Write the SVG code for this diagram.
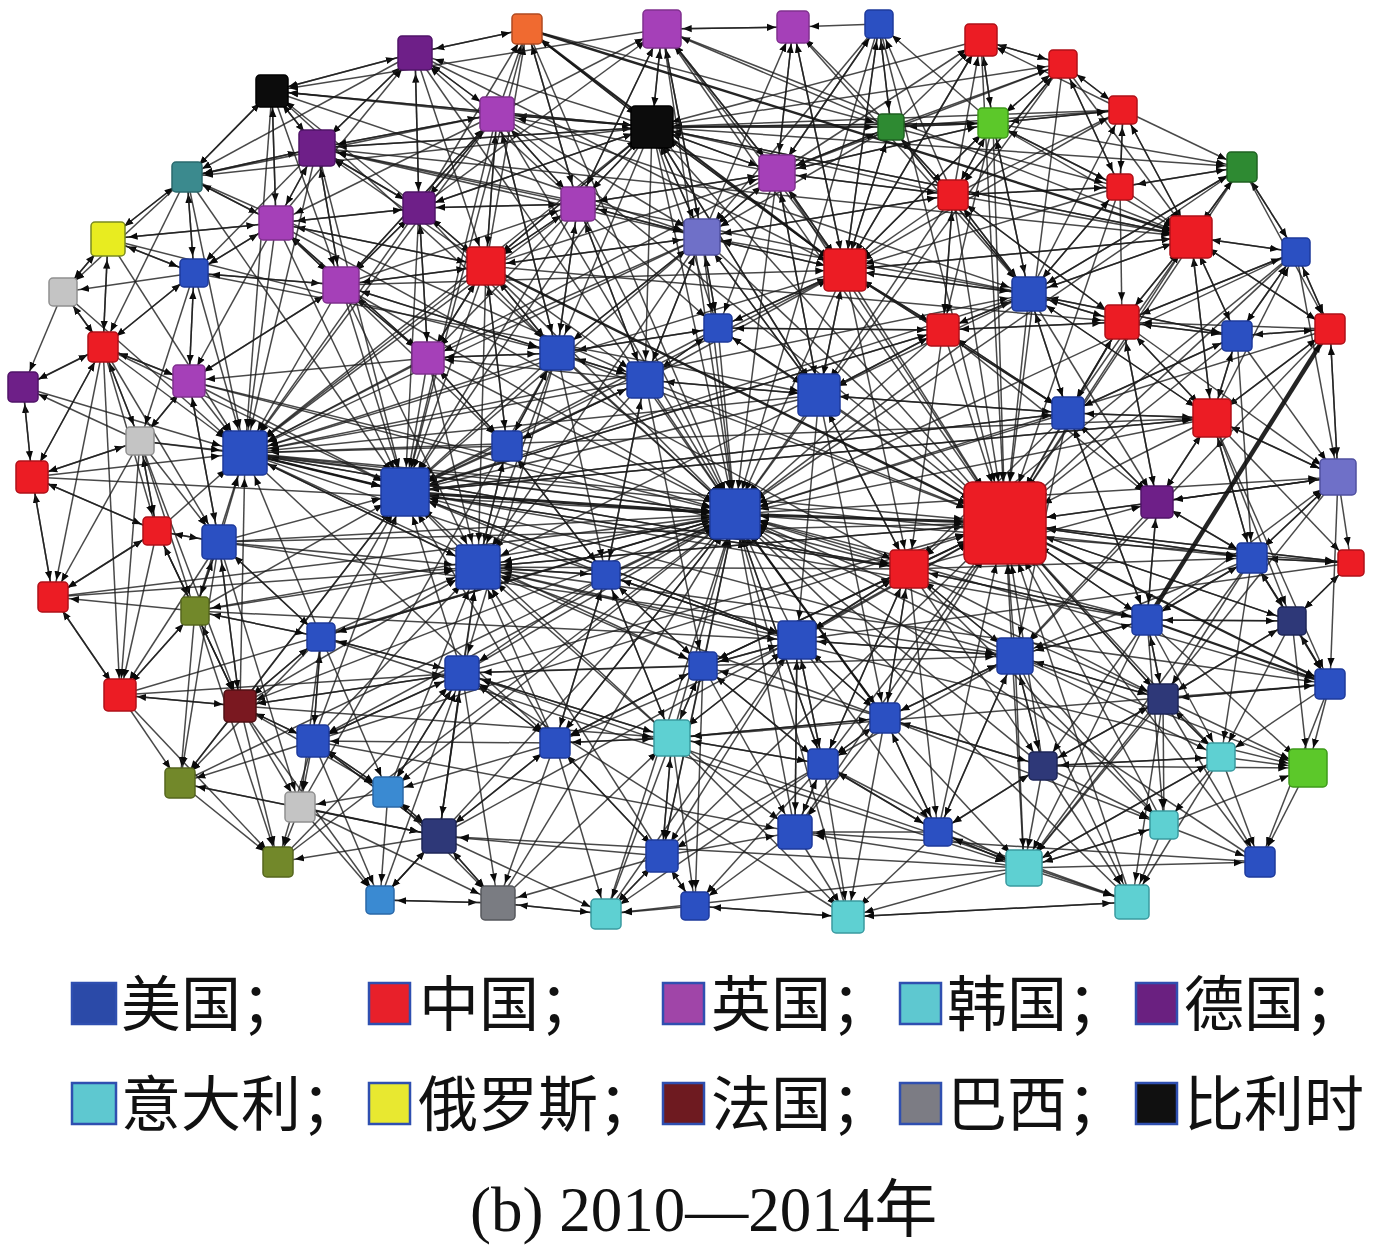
<svg xmlns="http://www.w3.org/2000/svg" width="1376" height="1248" viewBox="0 0 1376 1248">
<style>
#edges{fill:none;stroke:#1c1c1c;stroke-width:1.5;stroke-opacity:.8}
#thick{stroke:#111;stroke-opacity:.92}
#nodes rect{rx:4px;ry:4px;stroke-width:1.5}
.us{fill:#2b50c2;stroke:#1e3a9c}
.cn{fill:#ec1c24;stroke:#b01018}
.uk{fill:#a540b8;stroke:#80308f}
.de{fill:#6e1f88;stroke:#501468}
.kr{fill:#5ed0d2;stroke:#3a9aa0}
.ru{fill:#e8ec20;stroke:#7a8a20}
.fr{fill:#7a1820;stroke:#501014}
.br{fill:#7a7c82;stroke:#55575c}
.be{fill:#0c0c0c;stroke:#000}
.or{fill:#f06a30;stroke:#b04a20}
.gd{fill:#2e8a32;stroke:#1f6222}
.gl{fill:#5cc82a;stroke:#3e9a1a}
.tl{fill:#3b8a8e;stroke:#2a6a6e}
.lv{fill:#6f70c8;stroke:#5050a0}
.lg{fill:#c4c4c4;stroke:#909090}
.ol{fill:#72882a;stroke:#55661e}
.nv{fill:#2e3878;stroke:#1e2658}
.lb{fill:#3a8ad2;stroke:#2a68a8}
.lgd rect{stroke:#2f4fb0;stroke-width:2.5}
.lt{font-family:'Noto Sans CJK SC',sans-serif;font-size:60px;fill:#111}
</style>
<defs>
<marker id="aS" viewBox="0 0 10 10" refX="29" refY="5" markerWidth="9" markerHeight="9" markerUnits="userSpaceOnUse" orient="auto"><path d="M0 1L10 5L0 9z" fill="#0a0a0a"/></marker>
<marker id="aM" viewBox="0 0 10 10" refX="33" refY="5" markerWidth="9" markerHeight="9" markerUnits="userSpaceOnUse" orient="auto"><path d="M0 1L10 5L0 9z" fill="#0a0a0a"/></marker>
<marker id="aL" viewBox="0 0 10 10" refX="38" refY="5" markerWidth="9" markerHeight="9" markerUnits="userSpaceOnUse" orient="auto"><path d="M0 1L10 5L0 9z" fill="#0a0a0a"/></marker>
<marker id="aX" viewBox="0 0 10 10" refX="57" refY="5" markerWidth="9" markerHeight="9" markerUnits="userSpaceOnUse" orient="auto"><path d="M0 1L10 5L0 9z" fill="#0a0a0a"/></marker>
</defs>
<rect width="1376" height="1248" fill="#fff"/>
<g id="edges">
<g marker-end="url(#aX)">
<path d="M845 270L1005 523"/><path d="M819 395L1005 523"/><path d="M1029 294L1005 523"/><path d="M943 330L1005 523"/><path d="M953 195L1005 523"/><path d="M1068 413L1005 523"/><path d="M1122 322L1005 523"/><path d="M1212 418L1005 523"/><path d="M1157 502L1005 523"/><path d="M1252 558L1005 523"/><path d="M1147 620L1005 523"/><path d="M1015 656L1005 523"/><path d="M909 569L1005 523"/><path d="M797 640L1005 523"/><path d="M885 718L1005 523"/><path d="M1043 766L1005 523"/><path d="M1163 699L1005 523"/><path d="M938 832L1005 523"/><path d="M1024 868L1005 523"/><path d="M1237 336L1005 523"/><path d="M1191 237L1005 523"/><path d="M993 123L1005 523"/><path d="M981 40L1005 523"/><path d="M645 380L1005 523"/><path d="M702 237L1005 523"/><path d="M718 328L1005 523"/><path d="M823 764L1005 523"/><path d="M1164 825L1005 523"/><path d="M1120 187L1005 523"/><path d="M1338 477L1005 523"/><path d="M1221 757L1005 523"/><path d="M703 666L1005 523"/><path d="M557 353L1005 523"/><path d="M777 173L1005 523"/><path d="M652 127L1005 523"/>
<path d="M245 453L1005 523"/><path d="M219 542L1005 523"/><path d="M478 567L1005 523"/><path d="M462 673L1005 523"/><path d="M313 741L1005 523"/><path d="M439 836L1005 523"/><path d="M662 856L1005 523"/><path d="M795 832L1005 523"/><path d="M1132 902L1005 523"/><path d="M1260 862L1005 523"/><path d="M1351 563L1005 523"/><path d="M1292 621L1005 523"/><path d="M1296 252L1005 523"/><path d="M1242 167L1005 523"/><path d="M1063 64L1005 523"/><path d="M879 24L1005 523"/><path d="M662 29L1005 523"/><path d="M497 114L1005 523"/>
</g>
<g marker-end="url(#aL)">
<path d="M245 453L735 514"/><path d="M478 567L735 514"/><path d="M645 380L735 514"/><path d="M557 353L735 514"/><path d="M507 446L735 514"/><path d="M819 395L735 514"/><path d="M845 270L735 514"/><path d="M718 328L735 514"/><path d="M702 237L735 514"/><path d="M652 127L735 514"/><path d="M909 569L735 514"/><path d="M797 640L735 514"/><path d="M703 666L735 514"/><path d="M672 738L735 514"/><path d="M606 575L735 514"/><path d="M486 266L735 514"/><path d="M777 173L735 514"/><path d="M578 204L735 514"/><path d="M1029 294L735 514"/><path d="M943 330L735 514"/><path d="M1068 413L735 514"/><path d="M1015 656L735 514"/><path d="M885 718L735 514"/><path d="M555 743L735 514"/><path d="M462 673L735 514"/><path d="M662 856L735 514"/><path d="M795 832L735 514"/><path d="M428 358L735 514"/><path d="M341 285L735 514"/><path d="M219 542L735 514"/><path d="M497 114L735 514"/><path d="M662 29L735 514"/><path d="M823 764L735 514"/><path d="M1212 418L735 514"/><path d="M1147 620L735 514"/><path d="M1163 699L735 514"/><path d="M1043 766L735 514"/><path d="M189 381L735 514"/><path d="M321 637L735 514"/>
<path d="M140 441L735 514"/><path d="M272 91L735 514"/><path d="M415 53L735 514"/><path d="M527 29L735 514"/><path d="M879 24L735 514"/><path d="M1063 64L735 514"/><path d="M1242 167L735 514"/><path d="M1296 252L735 514"/><path d="M1330 329L735 514"/><path d="M1351 563L735 514"/><path d="M1330 684L735 514"/><path d="M1260 862L735 514"/><path d="M1132 902L735 514"/><path d="M848 917L735 514"/><path d="M606 914L735 514"/><path d="M498 903L735 514"/><path d="M380 900L735 514"/><path d="M278 862L735 514"/><path d="M180 783L735 514"/><path d="M120 695L735 514"/><path d="M53 597L735 514"/><path d="M32 477L735 514"/>
<path d="M245 453L405 492"/><path d="M341 285L405 492"/><path d="M428 358L405 492"/><path d="M486 266L405 492"/><path d="M557 353L405 492"/><path d="M507 446L405 492"/><path d="M645 380L405 492"/><path d="M276 223L405 492"/><path d="M419 208L405 492"/><path d="M317 148L405 492"/><path d="M189 381L405 492"/><path d="M219 542L405 492"/><path d="M478 567L405 492"/><path d="M321 637L405 492"/><path d="M462 673L405 492"/><path d="M606 575L405 492"/><path d="M819 395L405 492"/><path d="M702 237L405 492"/><path d="M497 114L405 492"/><path d="M195 611L405 492"/><path d="M240 706L405 492"/><path d="M313 741L405 492"/><path d="M555 743L405 492"/><path d="M718 328L405 492"/><path d="M578 204L405 492"/><path d="M527 29L405 492"/><path d="M652 127L405 492"/><path d="M845 270L405 492"/><path d="M909 569L405 492"/><path d="M672 738L405 492"/><path d="M797 640L405 492"/>
<path d="M103 347L405 492"/><path d="M187 177L405 492"/><path d="M180 783L405 492"/><path d="M1015 656L405 492"/><path d="M1068 413L405 492"/><path d="M1029 294L405 492"/><path d="M943 330L405 492"/><path d="M1147 620L405 492"/><path d="M1212 418L405 492"/>
<path d="M276 223L245 453"/><path d="M194 273L245 453"/><path d="M189 381L245 453"/><path d="M341 285L245 453"/><path d="M317 148L245 453"/><path d="M103 347L245 453"/><path d="M140 441L245 453"/><path d="M219 542L245 453"/><path d="M157 531L245 453"/><path d="M428 358L245 453"/><path d="M486 266L245 453"/><path d="M557 353L245 453"/><path d="M645 380L245 453"/><path d="M507 446L245 453"/><path d="M478 567L245 453"/><path d="M321 637L245 453"/><path d="M195 611L245 453"/><path d="M240 706L245 453"/><path d="M272 91L245 453"/><path d="M419 208L245 453"/><path d="M497 114L245 453"/><path d="M652 127L245 453"/><path d="M702 237L245 453"/><path d="M819 395L245 453"/><path d="M845 270L245 453"/><path d="M777 173L245 453"/><path d="M578 204L245 453"/><path d="M909 569L245 453"/><path d="M187 177L245 453"/><path d="M108 239L245 453"/>
<path d="M32 477L245 453"/><path d="M23 387L245 453"/><path d="M63 292L245 453"/>
<path d="M245 453L478 567"/><path d="M219 542L478 567"/><path d="M321 637L478 567"/><path d="M462 673L478 567"/><path d="M606 575L478 567"/><path d="M507 446L478 567"/><path d="M557 353L478 567"/><path d="M645 380L478 567"/><path d="M735 514L478 567"/><path d="M555 743L478 567"/><path d="M672 738L478 567"/><path d="M240 706L478 567"/><path d="M195 611L478 567"/><path d="M428 358L478 567"/><path d="M341 285L478 567"/><path d="M486 266L478 567"/><path d="M702 237L478 567"/><path d="M797 640L478 567"/><path d="M703 666L478 567"/><path d="M313 741L478 567"/><path d="M388 792L478 567"/><path d="M439 836L478 567"/><path d="M662 856L478 567"/><path d="M909 569L478 567"/><path d="M819 395L478 567"/><path d="M1005 523L478 567"/><path d="M885 718L478 567"/>
<path d="M53 597L478 567"/>
</g>
<g marker-end="url(#aM)">
<path d="M793 27L662 29"/><path d="M652 127L662 29"/><path d="M578 204L662 29"/><path d="M777 173L662 29"/><path d="M702 237L662 29"/><path d="M497 114L662 29"/><path d="M891 127L662 29"/><path d="M845 270L662 29"/><path d="M419 208L662 29"/>
<path d="M272 91L415 53"/><path d="M497 114L415 53"/><path d="M317 148L415 53"/><path d="M652 127L415 53"/><path d="M419 208L415 53"/><path d="M578 204L415 53"/><path d="M276 223L415 53"/><path d="M527 29L415 53"/>
<path d="M652 127L497 114"/><path d="M415 53L497 114"/><path d="M419 208L497 114"/><path d="M578 204L497 114"/><path d="M341 285L497 114"/><path d="M486 266L497 114"/><path d="M777 173L497 114"/><path d="M317 148L497 114"/><path d="M557 353L497 114"/>
<path d="M527 29L652 127"/><path d="M662 29L652 127"/><path d="M777 173L652 127"/><path d="M578 204L652 127"/><path d="M497 114L652 127"/><path d="M419 208L652 127"/><path d="M317 148L652 127"/><path d="M702 237L652 127"/><path d="M845 270L652 127"/><path d="M891 127L652 127"/><path d="M993 123L652 127"/><path d="M953 195L652 127"/><path d="M272 91L652 127"/><path d="M486 266L652 127"/><path d="M1191 237L652 127"/><path d="M1123 110L652 127"/><path d="M819 395L652 127"/><path d="M981 40L652 127"/>
<path d="M272 91L317 148"/><path d="M415 53L317 148"/><path d="M497 114L317 148"/><path d="M419 208L317 148"/><path d="M276 223L317 148"/><path d="M187 177L317 148"/><path d="M341 285L317 148"/><path d="M652 127L317 148"/><path d="M578 204L317 148"/><path d="M486 266L317 148"/><path d="M702 237L317 148"/><path d="M1029 294L317 148"/>
<path d="M662 29L777 173"/><path d="M793 27L777 173"/><path d="M879 24L777 173"/><path d="M652 127L777 173"/><path d="M702 237L777 173"/><path d="M845 270L777 173"/><path d="M891 127L777 173"/><path d="M953 195L777 173"/><path d="M578 204L777 173"/><path d="M819 395L777 173"/><path d="M993 123L777 173"/><path d="M486 266L777 173"/><path d="M1063 64L777 173"/>
<path d="M527 29L578 204"/><path d="M662 29L578 204"/><path d="M497 114L578 204"/><path d="M652 127L578 204"/><path d="M419 208L578 204"/><path d="M486 266L578 204"/><path d="M702 237L578 204"/><path d="M557 353L578 204"/><path d="M645 380L578 204"/><path d="M341 285L578 204"/><path d="M777 173L578 204"/>
<path d="M272 91L276 223"/><path d="M317 148L276 223"/><path d="M187 177L276 223"/><path d="M419 208L276 223"/><path d="M341 285L276 223"/><path d="M194 273L276 223"/><path d="M108 239L276 223"/><path d="M428 358L276 223"/><path d="M497 114L276 223"/><path d="M486 266L276 223"/>
<path d="M187 177L108 239"/><path d="M276 223L108 239"/><path d="M63 292L108 239"/><path d="M194 273L108 239"/><path d="M103 347L108 239"/>
<path d="M652 127L702 237"/><path d="M662 29L702 237"/><path d="M578 204L702 237"/><path d="M777 173L702 237"/><path d="M845 270L702 237"/><path d="M718 328L702 237"/><path d="M645 380L702 237"/><path d="M557 353L702 237"/><path d="M486 266L702 237"/><path d="M819 395L702 237"/><path d="M953 195L702 237"/><path d="M1029 294L702 237"/><path d="M891 127L702 237"/><path d="M497 114L702 237"/><path d="M272 91L702 237"/><path d="M879 24L702 237"/>
<path d="M1063 64L1191 237"/><path d="M1123 110L1191 237"/><path d="M1120 187L1191 237"/><path d="M1242 167L1191 237"/><path d="M953 195L1191 237"/><path d="M1029 294L1191 237"/><path d="M1122 322L1191 237"/><path d="M1237 336L1191 237"/><path d="M1296 252L1191 237"/><path d="M845 270L1191 237"/><path d="M993 123L1191 237"/><path d="M1212 418L1191 237"/><path d="M1068 413L1191 237"/><path d="M652 127L1191 237"/><path d="M1330 329L1191 237"/><path d="M317 148L1191 237"/><path d="M662 29L1191 237"/>
<path d="M415 53L486 266"/><path d="M497 114L486 266"/><path d="M419 208L486 266"/><path d="M578 204L486 266"/><path d="M341 285L486 266"/><path d="M428 358L486 266"/><path d="M557 353L486 266"/><path d="M652 127L486 266"/><path d="M702 237L486 266"/><path d="M276 223L486 266"/><path d="M507 446L486 266"/>
<path d="M793 27L845 270"/><path d="M879 24L845 270"/><path d="M891 127L845 270"/><path d="M777 173L845 270"/><path d="M953 195L845 270"/><path d="M702 237L845 270"/><path d="M718 328L845 270"/><path d="M819 395L845 270"/><path d="M943 330L845 270"/><path d="M1029 294L845 270"/><path d="M993 123L845 270"/><path d="M652 127L845 270"/><path d="M981 40L845 270"/><path d="M1120 187L845 270"/><path d="M1191 237L845 270"/><path d="M1068 413L845 270"/><path d="M645 380L845 270"/><path d="M341 285L845 270"/><path d="M415 53L845 270"/><path d="M1123 110L845 270"/>
<path d="M276 223L341 285"/><path d="M317 148L341 285"/><path d="M419 208L341 285"/><path d="M428 358L341 285"/><path d="M194 273L341 285"/><path d="M486 266L341 285"/><path d="M272 91L341 285"/><path d="M497 114L341 285"/><path d="M189 381L341 285"/><path d="M557 353L341 285"/>
<path d="M953 195L1029 294"/><path d="M993 123L1029 294"/><path d="M1122 322L1029 294"/><path d="M1191 237L1029 294"/><path d="M1120 187L1029 294"/><path d="M943 330L1029 294"/><path d="M1068 413L1029 294"/><path d="M845 270L1029 294"/><path d="M1212 418L1029 294"/><path d="M1237 336L1029 294"/><path d="M891 127L1029 294"/><path d="M245 453L1029 294"/><path d="M497 114L1029 294"/><path d="M793 27L1029 294"/><path d="M1242 167L1029 294"/>
<path d="M1120 187L1122 322"/><path d="M1191 237L1122 322"/><path d="M1029 294L1122 322"/><path d="M1237 336L1122 322"/><path d="M1212 418L1122 322"/><path d="M1068 413L1122 322"/><path d="M953 195L1122 322"/><path d="M943 330L1122 322"/><path d="M1296 252L1122 322"/><path d="M1330 329L1122 322"/><path d="M1157 502L1122 322"/><path d="M486 266L1122 322"/>
<path d="M486 266L557 353"/><path d="M578 204L557 353"/><path d="M428 358L557 353"/><path d="M507 446L557 353"/><path d="M645 380L557 353"/><path d="M702 237L557 353"/><path d="M341 285L557 353"/><path d="M652 127L557 353"/><path d="M718 328L557 353"/><path d="M419 208L557 353"/><path d="M497 114L557 353"/><path d="M108 239L557 353"/><path d="M300 807L557 353"/>
<path d="M557 353L645 380"/><path d="M702 237L645 380"/><path d="M718 328L645 380"/><path d="M578 204L645 380"/><path d="M507 446L645 380"/><path d="M819 395L645 380"/><path d="M486 266L645 380"/><path d="M652 127L645 380"/><path d="M606 575L645 380"/><path d="M187 177L645 380"/>
<path d="M845 270L819 395"/><path d="M718 328L819 395"/><path d="M702 237L819 395"/><path d="M777 173L819 395"/><path d="M943 330L819 395"/><path d="M909 569L819 395"/><path d="M1029 294L819 395"/><path d="M645 380L819 395"/><path d="M1068 413L819 395"/><path d="M652 127L819 395"/><path d="M953 195L819 395"/><path d="M194 273L819 395"/>
<path d="M1237 336L1212 418"/><path d="M1122 322L1212 418"/><path d="M1191 237L1212 418"/><path d="M1068 413L1212 418"/><path d="M1157 502L1212 418"/><path d="M1252 558L1212 418"/><path d="M1330 329L1212 418"/><path d="M1338 477L1212 418"/><path d="M1029 294L1212 418"/><path d="M245 453L1212 418"/><path d="M405 492L1212 418"/>
<path d="M1330 329L1338 477"/><path d="M1237 336L1338 477"/><path d="M1212 418L1338 477"/><path d="M1252 558L1338 477"/><path d="M1296 252L1338 477"/><path d="M1157 502L1338 477"/><path d="M1122 322L1338 477"/><path d="M1147 620L1338 477"/><path d="M735 514L1338 477"/>
<path d="M157 531L219 542"/><path d="M195 611L219 542"/><path d="M189 381L219 542"/><path d="M140 441L219 542"/><path d="M321 637L219 542"/><path d="M103 347L219 542"/><path d="M240 706L219 542"/>
<path d="M819 395L909 569"/><path d="M797 640L909 569"/><path d="M1015 656L909 569"/><path d="M885 718L909 569"/><path d="M943 330L909 569"/><path d="M845 270L909 569"/><path d="M1068 413L909 569"/><path d="M1147 620L909 569"/><path d="M823 764L909 569"/><path d="M703 666L909 569"/><path d="M245 453L909 569"/><path d="M405 492L909 569"/><path d="M276 223L909 569"/><path d="M189 381L909 569"/><path d="M1296 252L909 569"/>
<path d="M703 666L797 640"/><path d="M885 718L797 640"/><path d="M823 764L797 640"/><path d="M909 569L797 640"/><path d="M672 738L797 640"/><path d="M819 395L797 640"/><path d="M1015 656L797 640"/><path d="M606 575L797 640"/><path d="M795 832L797 640"/><path d="M245 453L797 640"/><path d="M405 492L797 640"/><path d="M195 611L797 640"/><path d="M1351 563L797 640"/><path d="M606 914L797 640"/>
<path d="M909 569L1015 656"/><path d="M885 718L1015 656"/><path d="M1043 766L1015 656"/><path d="M1147 620L1015 656"/><path d="M1163 699L1015 656"/><path d="M797 640L1015 656"/><path d="M1068 413L1015 656"/><path d="M1157 502L1015 656"/><path d="M1252 558L1015 656"/><path d="M938 832L1015 656"/><path d="M219 542L1015 656"/><path d="M462 673L1015 656"/><path d="M1330 329L1015 656"/>
<path d="M321 637L462 673"/><path d="M555 743L462 673"/><path d="M313 741L462 673"/><path d="M240 706L462 673"/><path d="M388 792L462 673"/><path d="M439 836L462 673"/><path d="M606 575L462 673"/><path d="M703 666L462 673"/><path d="M672 738L462 673"/><path d="M557 353L462 673"/><path d="M120 695L462 673"/><path d="M1132 902L462 673"/><path d="M848 917L462 673"/><path d="M380 900L462 673"/><path d="M278 862L462 673"/>
<path d="M703 666L672 738"/><path d="M555 743L672 738"/><path d="M662 856L672 738"/><path d="M797 640L672 738"/><path d="M606 575L672 738"/><path d="M823 764L672 738"/><path d="M462 673L672 738"/><path d="M885 718L672 738"/><path d="M240 706L672 738"/><path d="M1330 684L672 738"/><path d="M498 903L672 738"/>
<path d="M1221 757L1308 768"/><path d="M1330 684L1308 768"/><path d="M1163 699L1308 768"/><path d="M1164 825L1308 768"/><path d="M1015 656L1308 768"/><path d="M1147 620L1308 768"/><path d="M1292 621L1308 768"/><path d="M1043 766L1308 768"/><path d="M478 567L1308 768"/>
<path d="M388 792L439 836"/><path d="M462 673L439 836"/><path d="M313 741L439 836"/><path d="M380 900L439 836"/><path d="M555 743L439 836"/><path d="M498 903L439 836"/><path d="M300 807L439 836"/><path d="M1024 868L439 836"/><path d="M662 856L439 836"/><path d="M180 783L439 836"/>
<path d="M823 764L795 832"/><path d="M797 640L795 832"/><path d="M885 718L795 832"/><path d="M662 856L795 832"/><path d="M938 832L795 832"/><path d="M703 666L795 832"/><path d="M672 738L795 832"/><path d="M1024 868L795 832"/><path d="M313 741L795 832"/><path d="M1260 862L795 832"/>
<path d="M1043 766L1024 868"/><path d="M938 832L1024 868"/><path d="M1221 757L1024 868"/><path d="M1164 825L1024 868"/><path d="M1147 620L1024 868"/><path d="M1015 656L1024 868"/><path d="M885 718L1024 868"/><path d="M823 764L1024 868"/><path d="M1163 699L1024 868"/><path d="M1252 558L1024 868"/><path d="M321 637L1024 868"/><path d="M1338 477L1024 868"/>
<path d="M439 836L498 903"/><path d="M380 900L498 903"/><path d="M555 743L498 903"/><path d="M462 673L498 903"/><path d="M606 914L498 903"/><path d="M300 807L498 903"/><path d="M388 792L498 903"/><path d="M662 856L498 903"/>
<path d="M1024 868L1132 902"/><path d="M1164 825L1132 902"/><path d="M1221 757L1132 902"/><path d="M938 832L1132 902"/><path d="M1043 766L1132 902"/><path d="M1015 656L1132 902"/><path d="M1163 699L1132 902"/><path d="M848 917L1132 902"/>
</g>
<g marker-end="url(#aS)">
<path d="M652 127L527 29"/><path d="M497 114L527 29"/><path d="M415 53L527 29"/><path d="M578 204L527 29"/><path d="M486 266L527 29"/><path d="M419 208L527 29"/>
<path d="M662 29L793 27"/><path d="M777 173L793 27"/><path d="M879 24L793 27"/><path d="M891 127L793 27"/><path d="M845 270L793 27"/><path d="M702 237L793 27"/>
<path d="M891 127L879 24"/><path d="M777 173L879 24"/><path d="M993 123L879 24"/><path d="M845 270L879 24"/><path d="M953 195L879 24"/>
<path d="M891 127L981 40"/><path d="M993 123L981 40"/><path d="M1063 64L981 40"/><path d="M953 195L981 40"/><path d="M777 173L981 40"/><path d="M845 270L981 40"/><path d="M1123 110L981 40"/>
<path d="M981 40L1063 64"/><path d="M993 123L1063 64"/><path d="M1123 110L1063 64"/><path d="M891 127L1063 64"/><path d="M953 195L1063 64"/><path d="M1120 187L1063 64"/><path d="M652 127L1063 64"/>
<path d="M415 53L272 91"/><path d="M317 148L272 91"/><path d="M187 177L272 91"/><path d="M276 223L272 91"/><path d="M497 114L272 91"/><path d="M652 127L272 91"/><path d="M419 208L272 91"/><path d="M662 29L272 91"/>
<path d="M652 127L891 127"/><path d="M845 270L891 127"/><path d="M777 173L891 127"/><path d="M953 195L891 127"/><path d="M993 123L891 127"/><path d="M879 24L891 127"/><path d="M1029 294L891 127"/><path d="M527 29L891 127"/>
<path d="M891 127L993 123"/><path d="M981 40L993 123"/><path d="M953 195L993 123"/><path d="M1063 64L993 123"/><path d="M1120 187L993 123"/><path d="M1123 110L993 123"/><path d="M845 270L993 123"/><path d="M777 173L993 123"/><path d="M652 127L993 123"/><path d="M1029 294L993 123"/>
<path d="M1063 64L1123 110"/><path d="M993 123L1123 110"/><path d="M1120 187L1123 110"/><path d="M1191 237L1123 110"/><path d="M953 195L1123 110"/><path d="M891 127L1123 110"/><path d="M1029 294L1123 110"/>
<path d="M272 91L187 177"/><path d="M317 148L187 177"/><path d="M276 223L187 177"/><path d="M108 239L187 177"/><path d="M194 273L187 177"/><path d="M415 53L187 177"/><path d="M497 114L187 177"/><path d="M652 127L187 177"/>
<path d="M891 127L953 195"/><path d="M993 123L953 195"/><path d="M1063 64L953 195"/><path d="M1120 187L953 195"/><path d="M1029 294L953 195"/><path d="M943 330L953 195"/><path d="M777 173L953 195"/><path d="M1122 322L953 195"/><path d="M702 237L953 195"/>
<path d="M1063 64L1120 187"/><path d="M1123 110L1120 187"/><path d="M953 195L1120 187"/><path d="M993 123L1120 187"/><path d="M1029 294L1120 187"/><path d="M1242 167L1120 187"/><path d="M891 127L1120 187"/>
<path d="M1191 237L1242 167"/><path d="M993 123L1242 167"/><path d="M1120 187L1242 167"/><path d="M1123 110L1242 167"/><path d="M1296 252L1242 167"/><path d="M1029 294L1242 167"/><path d="M652 127L1242 167"/>
<path d="M415 53L419 208"/><path d="M317 148L419 208"/><path d="M497 114L419 208"/><path d="M276 223L419 208"/><path d="M341 285L419 208"/><path d="M486 266L419 208"/><path d="M578 204L419 208"/><path d="M652 127L419 208"/><path d="M428 358L419 208"/>
<path d="M1191 237L1296 252"/><path d="M1242 167L1296 252"/><path d="M1237 336L1296 252"/><path d="M1330 329L1296 252"/><path d="M1122 322L1296 252"/><path d="M1212 418L1296 252"/>
<path d="M276 223L194 273"/><path d="M187 177L194 273"/><path d="M108 239L194 273"/><path d="M341 285L194 273"/><path d="M189 381L194 273"/><path d="M317 148L194 273"/><path d="M103 347L194 273"/>
<path d="M108 239L63 292"/><path d="M103 347L63 292"/><path d="M194 273L63 292"/><path d="M187 177L63 292"/>
<path d="M845 270L943 330"/><path d="M953 195L943 330"/><path d="M1029 294L943 330"/><path d="M1068 413L943 330"/><path d="M819 395L943 330"/><path d="M1122 322L943 330"/><path d="M993 123L943 330"/><path d="M718 328L943 330"/><path d="M405 492L943 330"/>
<path d="M702 237L718 328"/><path d="M645 380L718 328"/><path d="M819 395L718 328"/><path d="M652 127L718 328"/><path d="M845 270L718 328"/><path d="M777 173L718 328"/><path d="M557 353L718 328"/><path d="M578 204L718 328"/><path d="M943 330L718 328"/>
<path d="M1191 237L1237 336"/><path d="M1296 252L1237 336"/><path d="M1212 418L1237 336"/><path d="M1122 322L1237 336"/><path d="M1330 329L1237 336"/><path d="M1068 413L1237 336"/><path d="M1029 294L1237 336"/>
<path d="M1296 252L1330 329"/><path d="M1338 477L1330 329"/><path d="M1237 336L1330 329"/><path d="M1191 237L1330 329"/><path d="M1212 418L1330 329"/><path d="M1242 167L1330 329"/>
<path d="M63 292L103 347"/><path d="M108 239L103 347"/><path d="M23 387L103 347"/><path d="M194 273L103 347"/><path d="M189 381L103 347"/><path d="M140 441L103 347"/><path d="M32 477L103 347"/><path d="M187 177L103 347"/>
<path d="M341 285L428 358"/><path d="M486 266L428 358"/><path d="M419 208L428 358"/><path d="M557 353L428 358"/><path d="M507 446L428 358"/><path d="M276 223L428 358"/><path d="M578 204L428 358"/><path d="M645 380L428 358"/><path d="M702 237L428 358"/>
<path d="M103 347L23 387"/><path d="M63 292L23 387"/><path d="M32 477L23 387"/><path d="M140 441L23 387"/>
<path d="M103 347L189 381"/><path d="M276 223L189 381"/><path d="M194 273L189 381"/><path d="M341 285L189 381"/><path d="M140 441L189 381"/><path d="M428 358L189 381"/><path d="M219 542L189 381"/>
<path d="M1029 294L1068 413"/><path d="M1122 322L1068 413"/><path d="M943 330L1068 413"/><path d="M1212 418L1068 413"/><path d="M1157 502L1068 413"/><path d="M819 395L1068 413"/><path d="M1147 620L1068 413"/><path d="M845 270L1068 413"/><path d="M1237 336L1068 413"/><path d="M405 492L1068 413"/>
<path d="M103 347L140 441"/><path d="M189 381L140 441"/><path d="M32 477L140 441"/><path d="M157 531L140 441"/><path d="M194 273L140 441"/>
<path d="M428 358L507 446"/><path d="M557 353L507 446"/><path d="M478 567L507 446"/><path d="M645 380L507 446"/><path d="M486 266L507 446"/><path d="M606 575L507 446"/><path d="M341 285L507 446"/>
<path d="M103 347L32 477"/><path d="M23 387L32 477"/><path d="M53 597L32 477"/><path d="M140 441L32 477"/><path d="M157 531L32 477"/>
<path d="M1212 418L1157 502"/><path d="M1068 413L1157 502"/><path d="M1252 558L1157 502"/><path d="M1147 620L1157 502"/><path d="M1122 322L1157 502"/><path d="M1338 477L1157 502"/><path d="M1029 294L1157 502"/><path d="M943 330L1157 502"/><path d="M909 569L1157 502"/>
<path d="M140 441L157 531"/><path d="M103 347L157 531"/><path d="M219 542L157 531"/><path d="M53 597L157 531"/><path d="M195 611L157 531"/><path d="M32 477L157 531"/>
<path d="M478 567L606 575"/><path d="M703 666L606 575"/><path d="M645 380L606 575"/><path d="M507 446L606 575"/><path d="M557 353L606 575"/><path d="M672 738L606 575"/><path d="M555 743L606 575"/><path d="M797 640L606 575"/>
<path d="M1147 620L1252 558"/><path d="M1212 418L1252 558"/><path d="M1338 477L1252 558"/><path d="M1157 502L1252 558"/><path d="M1351 563L1252 558"/><path d="M1292 621L1252 558"/><path d="M1237 336L1252 558"/><path d="M909 569L1252 558"/><path d="M1005 523L1252 558"/><path d="M245 453L1252 558"/>
<path d="M1005 523L1351 563"/><path d="M1252 558L1351 563"/><path d="M1338 477L1351 563"/><path d="M1292 621L1351 563"/><path d="M1212 418L1351 563"/>
<path d="M103 347L53 597"/><path d="M32 477L53 597"/><path d="M157 531L53 597"/><path d="M120 695L53 597"/><path d="M140 441L53 597"/><path d="M195 611L53 597"/>
<path d="M219 542L195 611"/><path d="M157 531L195 611"/><path d="M240 706L195 611"/><path d="M321 637L195 611"/><path d="M120 695L195 611"/><path d="M140 441L195 611"/><path d="M735 514L195 611"/>
<path d="M1252 558L1147 620"/><path d="M1015 656L1147 620"/><path d="M1163 699L1147 620"/><path d="M1157 502L1147 620"/><path d="M909 569L1147 620"/><path d="M1292 621L1147 620"/><path d="M1068 413L1147 620"/><path d="M1005 523L1147 620"/>
<path d="M1147 620L1292 621"/><path d="M1252 558L1292 621"/><path d="M1005 523L1292 621"/><path d="M1330 684L1292 621"/><path d="M1163 699L1292 621"/><path d="M1212 418L1292 621"/><path d="M1351 563L1292 621"/>
<path d="M219 542L321 637"/><path d="M195 611L321 637"/><path d="M240 706L321 637"/><path d="M462 673L321 637"/><path d="M313 741L321 637"/><path d="M735 514L321 637"/>
<path d="M797 640L703 666"/><path d="M672 738L703 666"/><path d="M606 575L703 666"/><path d="M823 764L703 666"/><path d="M885 718L703 666"/><path d="M555 743L703 666"/><path d="M1005 523L703 666"/><path d="M645 380L703 666"/><path d="M245 453L703 666"/>
<path d="M103 347L120 695"/><path d="M53 597L120 695"/><path d="M157 531L120 695"/><path d="M240 706L120 695"/><path d="M195 611L120 695"/><path d="M219 542L120 695"/><path d="M140 441L120 695"/>
<path d="M219 542L240 706"/><path d="M195 611L240 706"/><path d="M321 637L240 706"/><path d="M313 741L240 706"/><path d="M462 673L240 706"/><path d="M157 531L240 706"/><path d="M140 441L240 706"/><path d="M735 514L240 706"/><path d="M120 695L240 706"/>
<path d="M1005 523L1163 699"/><path d="M1147 620L1163 699"/><path d="M1015 656L1163 699"/><path d="M1252 558L1163 699"/><path d="M1292 621L1163 699"/><path d="M1043 766L1163 699"/><path d="M1221 757L1163 699"/><path d="M909 569L1163 699"/><path d="M1330 684L1163 699"/>
<path d="M1252 558L1330 684"/><path d="M1292 621L1330 684"/><path d="M1163 699L1330 684"/><path d="M1212 418L1330 684"/><path d="M1338 477L1330 684"/><path d="M478 567L1330 684"/>
<path d="M321 637L313 741"/><path d="M240 706L313 741"/><path d="M462 673L313 741"/><path d="M388 792L313 741"/><path d="M555 743L313 741"/><path d="M439 836L313 741"/><path d="M735 514L313 741"/>
<path d="M462 673L555 743"/><path d="M606 575L555 743"/><path d="M672 738L555 743"/><path d="M703 666L555 743"/><path d="M735 514L555 743"/><path d="M662 856L555 743"/><path d="M439 836L555 743"/><path d="M797 640L555 743"/><path d="M245 453L555 743"/>
<path d="M909 569L885 718"/><path d="M797 640L885 718"/><path d="M1015 656L885 718"/><path d="M823 764L885 718"/><path d="M938 832L885 718"/><path d="M1043 766L885 718"/><path d="M672 738L885 718"/><path d="M819 395L885 718"/>
<path d="M797 640L823 764"/><path d="M885 718L823 764"/><path d="M735 514L823 764"/><path d="M909 569L823 764"/><path d="M703 666L823 764"/><path d="M672 738L823 764"/><path d="M795 832L823 764"/><path d="M938 832L823 764"/><path d="M1015 656L823 764"/>
<path d="M1015 656L1043 766"/><path d="M1147 620L1043 766"/><path d="M1163 699L1043 766"/><path d="M909 569L1043 766"/><path d="M885 718L1043 766"/><path d="M1221 757L1043 766"/><path d="M938 832L1043 766"/>
<path d="M1163 699L1221 757"/><path d="M1147 620L1221 757"/><path d="M1252 558L1221 757"/><path d="M1330 684L1221 757"/><path d="M1292 621L1221 757"/><path d="M1015 656L1221 757"/><path d="M1024 868L1221 757"/><path d="M1043 766L1221 757"/>
<path d="M120 695L180 783"/><path d="M240 706L180 783"/><path d="M195 611L180 783"/><path d="M313 741L180 783"/><path d="M219 542L180 783"/><path d="M321 637L180 783"/><path d="M439 836L180 783"/>
<path d="M313 741L388 792"/><path d="M462 673L388 792"/><path d="M439 836L388 792"/><path d="M555 743L388 792"/><path d="M321 637L388 792"/><path d="M240 706L388 792"/><path d="M735 514L388 792"/>
<path d="M240 706L300 807"/><path d="M313 741L300 807"/><path d="M321 637L300 807"/><path d="M219 542L300 807"/><path d="M388 792L300 807"/>
<path d="M885 718L938 832"/><path d="M1015 656L938 832"/><path d="M1043 766L938 832"/><path d="M823 764L938 832"/><path d="M1024 868L938 832"/><path d="M909 569L938 832"/><path d="M797 640L938 832"/>
<path d="M1221 757L1164 825"/><path d="M1163 699L1164 825"/><path d="M1015 656L1164 825"/><path d="M1024 868L1164 825"/><path d="M1043 766L1164 825"/><path d="M885 718L1164 825"/><path d="M1147 620L1164 825"/><path d="M909 569L1164 825"/>
<path d="M180 783L278 862"/><path d="M240 706L278 862"/><path d="M300 807L278 862"/><path d="M439 836L278 862"/><path d="M313 741L278 862"/><path d="M120 695L278 862"/><path d="M195 611L278 862"/>
<path d="M672 738L662 856"/><path d="M703 666L662 856"/><path d="M555 743L662 856"/><path d="M606 914L662 856"/><path d="M695 906L662 856"/><path d="M797 640L662 856"/><path d="M823 764L662 856"/>
<path d="M1221 757L1260 862"/><path d="M1308 768L1260 862"/><path d="M1024 868L1260 862"/><path d="M1163 699L1260 862"/><path d="M1164 825L1260 862"/><path d="M1330 684L1260 862"/>
<path d="M300 807L380 900"/><path d="M439 836L380 900"/><path d="M313 741L380 900"/><path d="M240 706L380 900"/><path d="M388 792L380 900"/><path d="M498 903L380 900"/>
<path d="M498 903L606 914"/><path d="M695 906L606 914"/><path d="M662 856L606 914"/><path d="M555 743L606 914"/><path d="M439 836L606 914"/><path d="M1024 868L606 914"/><path d="M823 764L606 914"/><path d="M672 738L606 914"/>
<path d="M662 856L695 906"/><path d="M672 738L695 906"/><path d="M848 917L695 906"/><path d="M795 832L695 906"/><path d="M703 666L695 906"/><path d="M823 764L695 906"/>
<path d="M1024 868L848 917"/><path d="M695 906L848 917"/><path d="M795 832L848 917"/><path d="M938 832L848 917"/><path d="M885 718L848 917"/><path d="M823 764L848 917"/><path d="M672 738L848 917"/><path d="M1132 902L848 917"/>
</g>
<g id="thick">
<path d="M405 492L735 514" stroke-width="3" marker-end="url(#aL)"/>
<path d="M735 514L1005 523" stroke-width="3" marker-end="url(#aX)"/>
<path d="M486 266L1005 523" stroke-width="2.6" marker-end="url(#aX)"/>
<path d="M1147 620L1330 329" stroke-width="4.5" marker-end="url(#aS)"/>
<path d="M527 29L1191 237" stroke-width="2.4" marker-end="url(#aM)"/>
<path d="M527 29L845 270" stroke-width="2.2" marker-end="url(#aM)"/>
<path d="M245 453L405 492" stroke-width="2.4" marker-end="url(#aL)"/>
<path d="M1005 523L1330 684" stroke-width="2.4" marker-end="url(#aS)"/>
<path d="M1147 620L1330 684" stroke-width="2.2" marker-end="url(#aS)"/>
<path d="M735 514L885 718" stroke-width="2.2" marker-end="url(#aS)"/>
</g>
</g>
<g id="nodes">
<g id="n1" class="or"><rect x="512" y="14" width="30" height="30"/></g>
<g id="n2" class="uk"><rect x="643" y="10" width="38" height="38"/></g>
<g id="n3" class="uk"><rect x="777" y="11" width="32" height="32"/></g>
<g id="n4" class="us"><rect x="865" y="10" width="28" height="28"/></g>
<g id="n5" class="cn"><rect x="965" y="24" width="32" height="32"/></g>
<g id="n6" class="cn"><rect x="1049" y="50" width="28" height="28"/></g>
<g id="n7" class="de"><rect x="398" y="36" width="34" height="34"/></g>
<g id="n8" class="be"><rect x="256" y="75" width="32" height="32"/></g>
<g id="n9" class="uk"><rect x="480" y="97" width="34" height="34"/></g>
<g id="n10" class="be"><rect x="631" y="106" width="42" height="42"/></g>
<g id="n11" class="gd"><rect x="878" y="114" width="26" height="26"/></g>
<g id="n12" class="gl"><rect x="978" y="108" width="30" height="30"/></g>
<g id="n13" class="cn"><rect x="1109" y="96" width="28" height="28"/></g>
<g id="n14" class="de"><rect x="299" y="130" width="36" height="36"/></g>
<g id="n15" class="tl"><rect x="172" y="162" width="30" height="30"/></g>
<g id="n16" class="uk"><rect x="759" y="155" width="36" height="36"/></g>
<g id="n17" class="cn"><rect x="938" y="180" width="30" height="30"/></g>
<g id="n18" class="cn"><rect x="1107" y="174" width="26" height="26"/></g>
<g id="n19" class="gd"><rect x="1227" y="152" width="30" height="30"/></g>
<g id="n20" class="de"><rect x="403" y="192" width="32" height="32"/></g>
<g id="n21" class="uk"><rect x="561" y="187" width="34" height="34"/></g>
<g id="n22" class="uk"><rect x="259" y="206" width="34" height="34"/></g>
<g id="n23" class="ru"><rect x="91" y="222" width="34" height="34"/></g>
<g id="n24" class="lv"><rect x="684" y="219" width="36" height="36"/></g>
<g id="n25" class="cn"><rect x="1170" y="216" width="42" height="42"/></g>
<g id="n26" class="us"><rect x="1282" y="238" width="28" height="28"/></g>
<g id="n27" class="cn"><rect x="467" y="247" width="38" height="38"/></g>
<g id="n28" class="cn"><rect x="824" y="249" width="42" height="42"/></g>
<g id="n29" class="us"><rect x="180" y="259" width="28" height="28"/></g>
<g id="n30" class="uk"><rect x="323" y="267" width="36" height="36"/></g>
<g id="n31" class="lg"><rect x="49" y="278" width="28" height="28"/></g>
<g id="n32" class="us"><rect x="1012" y="277" width="34" height="34"/></g>
<g id="n33" class="cn"><rect x="927" y="314" width="32" height="32"/></g>
<g id="n34" class="cn"><rect x="1105" y="305" width="34" height="34"/></g>
<g id="n35" class="us"><rect x="704" y="314" width="28" height="28"/></g>
<g id="n36" class="us"><rect x="1222" y="321" width="30" height="30"/></g>
<g id="n37" class="cn"><rect x="1315" y="314" width="30" height="30"/></g>
<g id="n38" class="cn"><rect x="88" y="332" width="30" height="30"/></g>
<g id="n39" class="uk"><rect x="412" y="342" width="32" height="32"/></g>
<g id="n40" class="us"><rect x="540" y="336" width="34" height="34"/></g>
<g id="n41" class="de"><rect x="8" y="372" width="30" height="30"/></g>
<g id="n42" class="uk"><rect x="173" y="365" width="32" height="32"/></g>
<g id="n43" class="us"><rect x="627" y="362" width="36" height="36"/></g>
<g id="n44" class="us"><rect x="798" y="374" width="42" height="42"/></g>
<g id="n45" class="us"><rect x="1052" y="397" width="32" height="32"/></g>
<g id="n46" class="cn"><rect x="1193" y="399" width="38" height="38"/></g>
<g id="n47" class="lg"><rect x="126" y="427" width="28" height="28"/></g>
<g id="n48" class="us"><rect x="223" y="431" width="44" height="44"/></g>
<g id="n49" class="us"><rect x="492" y="431" width="30" height="30"/></g>
<g id="n50" class="cn"><rect x="16" y="461" width="32" height="32"/></g>
<g id="n51" class="lv"><rect x="1320" y="459" width="36" height="36"/></g>
<g id="n52" class="us"><rect x="381" y="468" width="48" height="48"/></g>
<g id="n53" class="us"><rect x="710" y="489" width="50" height="50"/></g>
<g id="n54" class="cn"><rect x="964" y="482" width="82" height="82" style="rx:8px;ry:8px"/></g>
<g id="n55" class="de"><rect x="1141" y="486" width="32" height="32"/></g>
<g id="n56" class="cn"><rect x="143" y="517" width="28" height="28"/></g>
<g id="n57" class="us"><rect x="202" y="525" width="34" height="34"/></g>
<g id="n58" class="us"><rect x="456" y="545" width="44" height="44"/></g>
<g id="n59" class="us"><rect x="592" y="561" width="28" height="28"/></g>
<g id="n60" class="cn"><rect x="890" y="550" width="38" height="38"/></g>
<g id="n61" class="us"><rect x="1237" y="543" width="30" height="30"/></g>
<g id="n62" class="cn"><rect x="1338" y="550" width="26" height="26"/></g>
<g id="n63" class="cn"><rect x="38" y="582" width="30" height="30"/></g>
<g id="n64" class="ol"><rect x="181" y="597" width="28" height="28"/></g>
<g id="n65" class="us"><rect x="1132" y="605" width="30" height="30"/></g>
<g id="n66" class="nv"><rect x="1278" y="607" width="28" height="28"/></g>
<g id="n67" class="us"><rect x="307" y="623" width="28" height="28"/></g>
<g id="n68" class="us"><rect x="778" y="621" width="38" height="38"/></g>
<g id="n69" class="us"><rect x="997" y="638" width="36" height="36"/></g>
<g id="n70" class="us"><rect x="445" y="656" width="34" height="34"/></g>
<g id="n71" class="us"><rect x="689" y="652" width="28" height="28"/></g>
<g id="n72" class="cn"><rect x="104" y="679" width="32" height="32"/></g>
<g id="n73" class="fr"><rect x="224" y="690" width="32" height="32"/></g>
<g id="n74" class="nv"><rect x="1148" y="684" width="30" height="30"/></g>
<g id="n75" class="us"><rect x="1315" y="669" width="30" height="30"/></g>
<g id="n76" class="us"><rect x="297" y="725" width="32" height="32"/></g>
<g id="n77" class="kr"><rect x="654" y="720" width="36" height="36"/></g>
<g id="n78" class="us"><rect x="540" y="728" width="30" height="30"/></g>
<g id="n79" class="us"><rect x="870" y="703" width="30" height="30"/></g>
<g id="n80" class="us"><rect x="808" y="749" width="30" height="30"/></g>
<g id="n81" class="nv"><rect x="1029" y="752" width="28" height="28"/></g>
<g id="n82" class="kr"><rect x="1207" y="743" width="28" height="28"/></g>
<g id="n83" class="gl"><rect x="1289" y="749" width="38" height="38"/></g>
<g id="n84" class="ol"><rect x="165" y="768" width="30" height="30"/></g>
<g id="n85" class="lb"><rect x="373" y="777" width="30" height="30"/></g>
<g id="n86" class="lg"><rect x="285" y="792" width="30" height="30"/></g>
<g id="n87" class="nv"><rect x="422" y="819" width="34" height="34"/></g>
<g id="n88" class="us"><rect x="778" y="815" width="34" height="34"/></g>
<g id="n89" class="us"><rect x="924" y="818" width="28" height="28"/></g>
<g id="n90" class="kr"><rect x="1150" y="811" width="28" height="28"/></g>
<g id="n91" class="ol"><rect x="263" y="847" width="30" height="30"/></g>
<g id="n92" class="us"><rect x="646" y="840" width="32" height="32"/></g>
<g id="n93" class="kr"><rect x="1006" y="850" width="36" height="36"/></g>
<g id="n94" class="us"><rect x="1245" y="847" width="30" height="30"/></g>
<g id="n95" class="lb"><rect x="366" y="886" width="28" height="28"/></g>
<g id="n96" class="br"><rect x="481" y="886" width="34" height="34"/></g>
<g id="n97" class="kr"><rect x="591" y="899" width="30" height="30"/></g>
<g id="n98" class="us"><rect x="681" y="892" width="28" height="28"/></g>
<g id="n99" class="kr"><rect x="832" y="901" width="32" height="32"/></g>
<g id="n100" class="kr"><rect x="1115" y="885" width="34" height="34"/></g>
</g>
<g id="legend" class="lgd">
<rect class="us" x="72" y="983" width="44" height="41" style="fill:#2b4aa8"/>
<rect class="cn" x="369" y="983" width="41" height="41" style="fill:#e8202a"/>
<rect class="uk" x="663" y="983" width="41" height="41" style="fill:#a045a8"/>
<rect class="kr" x="900" y="983" width="41" height="41" style="fill:#5ec8d0"/>
<rect class="de" x="1136" y="983" width="41" height="41" style="fill:#6a2080"/>
<rect class="kr" x="72" y="1083" width="44" height="41" style="fill:#5ec8d0"/>
<rect class="ru" x="369" y="1083" width="41" height="41" style="fill:#e8e830"/>
<rect class="fr" x="663" y="1083" width="41" height="41" style="fill:#6e1a20"/>
<rect class="br" x="900" y="1083" width="41" height="41" style="fill:#7c7c84"/>
<rect class="be" x="1136" y="1083" width="41" height="41" style="fill:#101010"/>
<text class="lt" x="121" y="1026">美国；</text>
<text class="lt" x="419" y="1026">中国；</text>
<text class="lt" x="711" y="1026">英国；</text>
<text class="lt" x="947" y="1026">韩国；</text>
<text class="lt" x="1184" y="1026">德国；</text>
<text class="lt" x="121" y="1126">意大利；</text>
<text class="lt" x="418" y="1126">俄罗斯；</text>
<text class="lt" x="711" y="1126">法国；</text>
<text class="lt" x="947" y="1126">巴西；</text>
<text class="lt" x="1184" y="1126">比利时</text>
</g>
<text x="470" y="1231" font-family="'Liberation Serif','Noto Sans CJK SC',serif" font-size="63" fill="#111">(b) 2010—2014年</text>
</svg>
